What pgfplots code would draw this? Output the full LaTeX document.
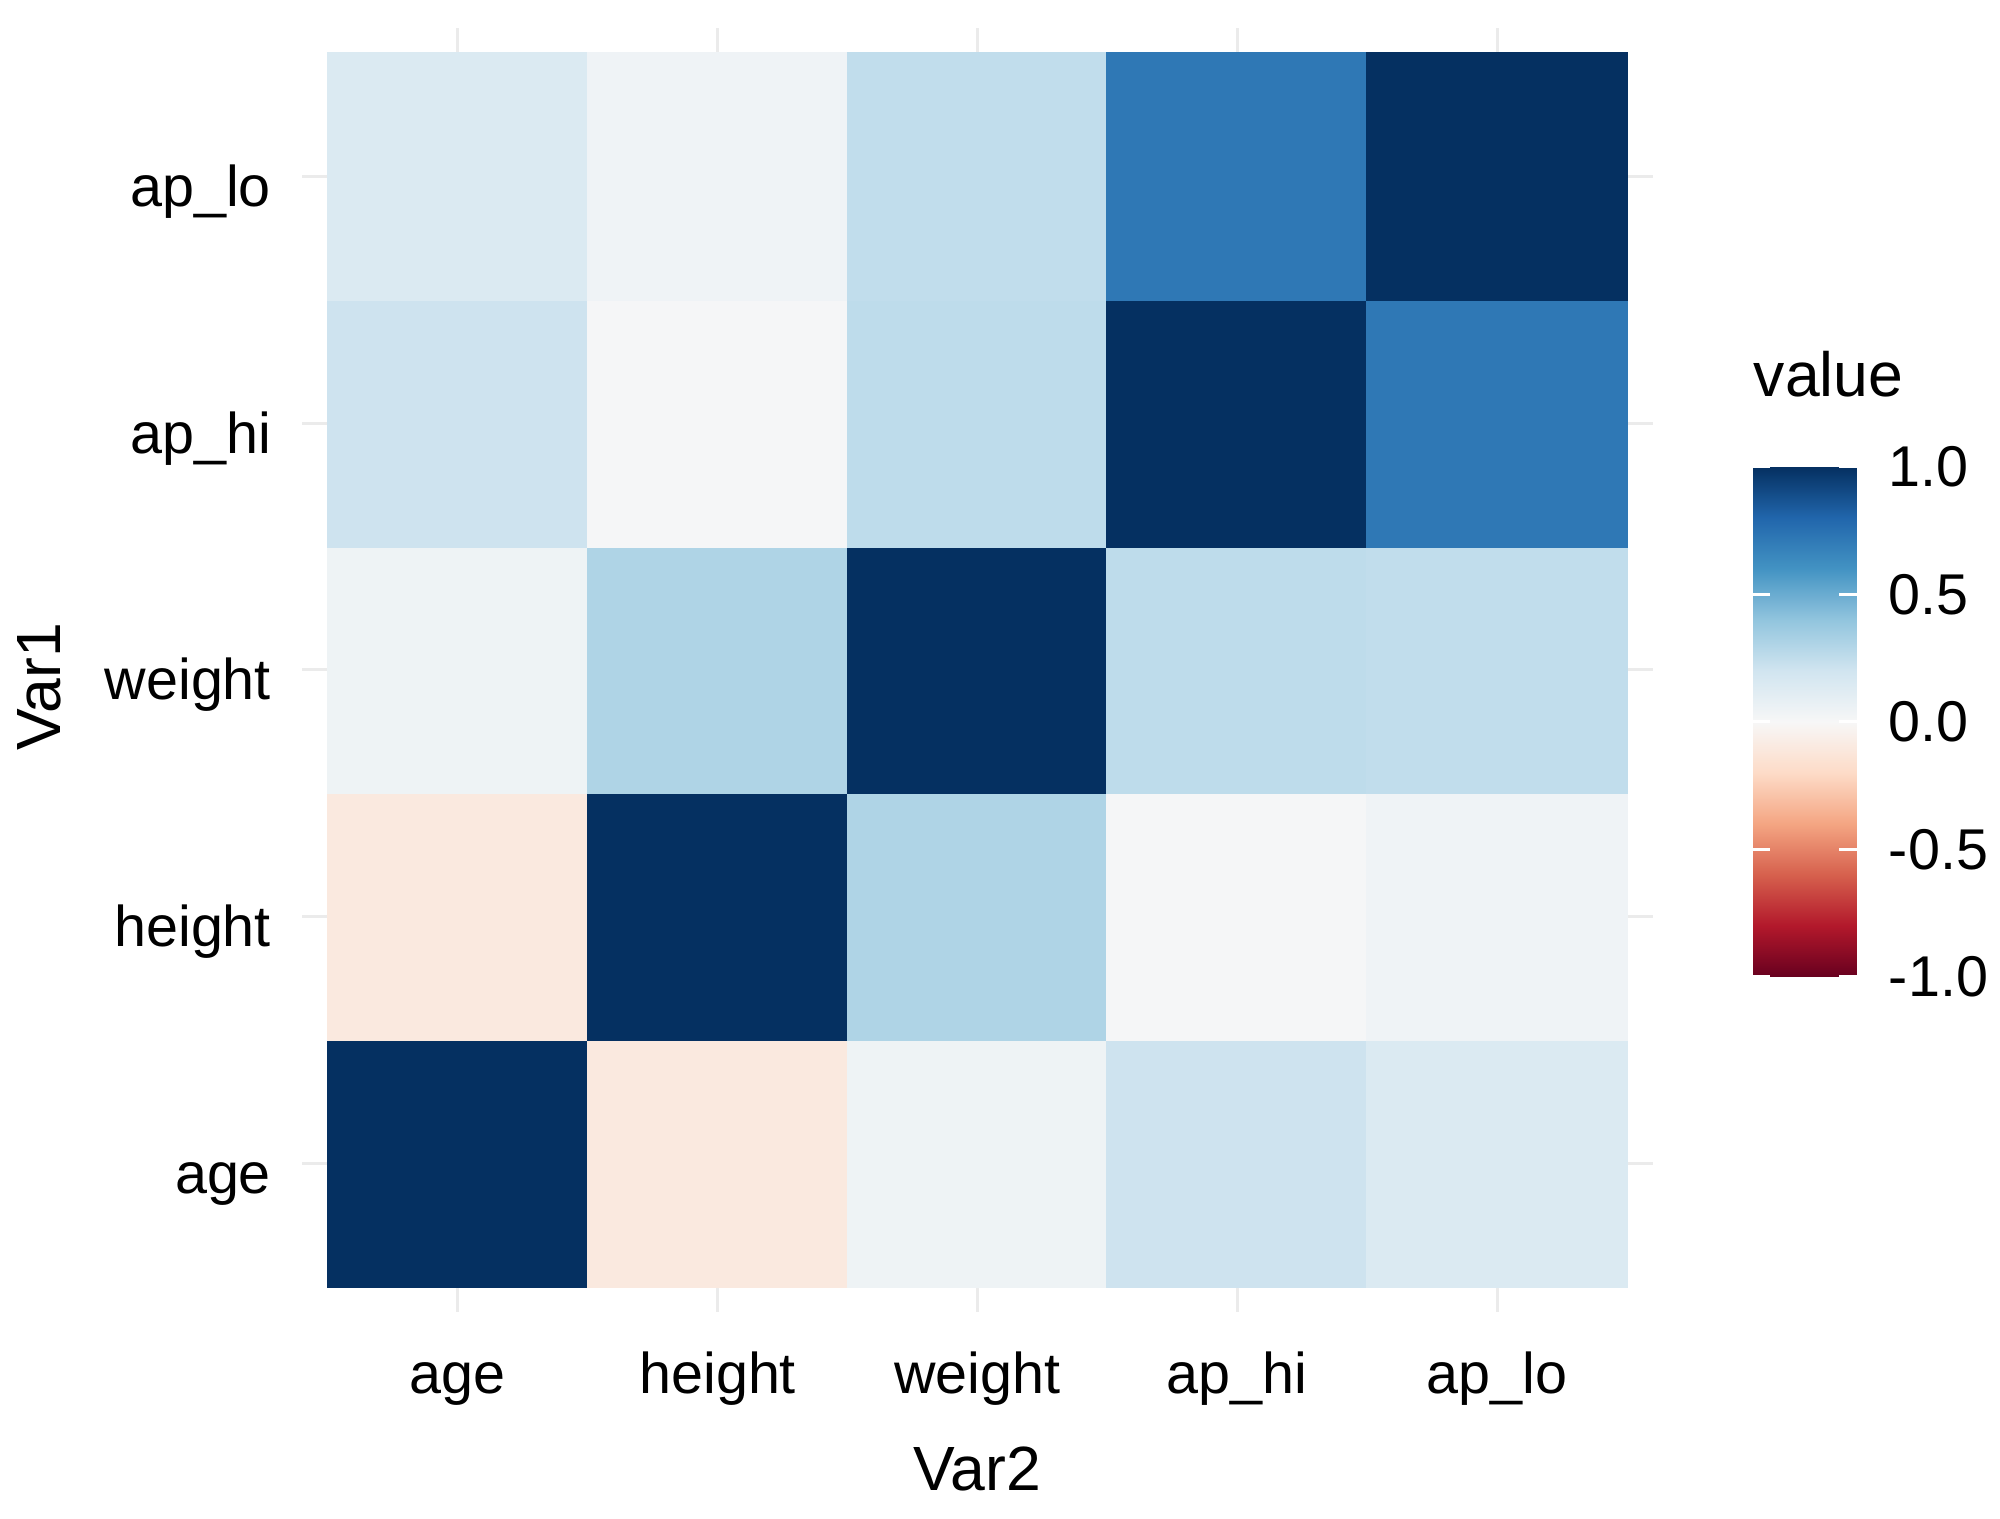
\documentclass[border=0pt]{standalone}
\usepackage{fontspec}
\setmainfont{Liberation Sans}
\usepackage{pgfplots}
\pgfplotsset{compat=1.18}

\definecolor{gridgray}{HTML}{EBEBEB}
\pgfplotsset{
    colormap={RdBu}{rgb255=(103,0,31) rgb255=(178,24,43) rgb255=(214,96,77)
        rgb255=(244,165,130) rgb255=(253,219,199) rgb255=(247,247,247)
        rgb255=(209,229,240) rgb255=(146,197,222) rgb255=(67,147,195)
        rgb255=(33,102,172) rgb255=(5,48,97)},
}

\begin{document}
\begin{tikzpicture}
\useasboundingbox (-60.4pt,-41.4pt) rectangle (339.6pt,262.4pt);
% heatmap
\begin{axis}[
    at={(0,0)}, anchor=south west,
    scale only axis,
    width=270.2pt, height=256.8pt,
    xmin=0.4, xmax=5.6, ymin=0.4, ymax=5.6,
    axis line style={draw=none},
    xtick={1,2,3,4,5}, ytick={1,2,3,4,5},
    xticklabels={age,height,weight,ap\_hi,ap\_lo},
    yticklabels={age,height,weight,ap\_hi,ap\_lo},
    tick style={draw=none},
    xmajorgrids, ymajorgrids,
    grid style={draw=gridgray, line width=0.6pt},
    xticklabel style={anchor=north, inner sep=0pt, yshift=-8.8pt,
        text height=0.73em, text depth=0.21em,
        font=\fontsize{11.5}{13}\selectfont},
    yticklabel style={anchor=east, inner sep=0pt, xshift=-6pt, yshift=-3.4pt,
        text height=0.73em, text depth=0.21em,
        font=\fontsize{11.5}{13}\selectfont},
    xlabel={Var2}, ylabel={Var1},
    xlabel style={at={(axis description cs:0.5,-0.104)}, anchor=north,
        inner sep=0pt, font=\fontsize{12.5}{14}\selectfont},
    ylabel style={at={(axis description cs:-0.1791,0.4868)}, anchor=base,
        inner sep=0pt, font=\fontsize{12.5}{14}\selectfont},
    colormap name=RdBu,
    point meta min=-1, point meta max=1,
]
\addplot[matrix plot*, mesh/cols=5, point meta=explicit] table[meta=c] {
x y c
1 1 1
2 1 -0.10
3 1 0.05
4 1 0.21
5 1 0.15
1 2 -0.10
2 2 1
3 2 0.31
4 2 0.01
5 2 0.04
1 3 0.05
2 3 0.31
3 3 1
4 3 0.26
5 3 0.25
1 4 0.21
2 4 0.01
3 4 0.26
4 4 1
5 4 0.72
1 5 0.15
2 5 0.04
3 5 0.25
4 5 0.72
5 5 1
};
\end{axis}
% colour bar legend
\begin{axis}[
    at={(290.2pt,67pt)}, anchor=south west,
    scale only axis,
    width=20.8pt, height=102pt,
    xmin=0, xmax=1, ymin=-1, ymax=1,
    axis on top,
    axis line style={draw=none},
    xtick=\empty,
    ytick={-1,-0.5,0,0.5,1},
    yticklabels={-1.0,-0.5,0.0,0.5,1.0},
    ytick pos=both, yticklabel pos=right,
    tick align=inside,
    major tick length=3.5pt,
    tick style={draw=white, line width=0.6pt},
    yticklabel style={anchor=west, inner sep=0pt, xshift=6.2pt,
        font=\fontsize{11.5}{13}\selectfont},
    title={value},
    title style={at={(0,1)}, anchor=base west, inner sep=0pt, yshift=8pt,
        font=\fontsize{12.5}{14}\selectfont},
    colormap name=RdBu,
    point meta min=-1, point meta max=1,
]
\addplot[surf, shader=interp, mesh/cols=2, point meta=explicit] table[meta=c] {
x y c
0 -1 -1
1 -1 -1
0 -0.8 -0.8
1 -0.8 -0.8
0 -0.6 -0.6
1 -0.6 -0.6
0 -0.4 -0.4
1 -0.4 -0.4
0 -0.2 -0.2
1 -0.2 -0.2
0 0 0
1 0 0
0 0.2 0.2
1 0.2 0.2
0 0.4 0.4
1 0.4 0.4
0 0.6 0.6
1 0.6 0.6
0 0.8 0.8
1 0.8 0.8
0 1 1
1 1 1
};
\end{axis}
\end{tikzpicture}
\end{document}
